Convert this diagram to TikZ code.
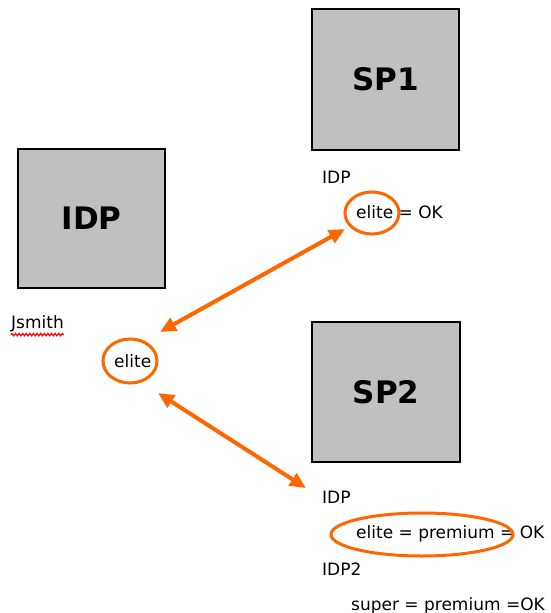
\documentclass[tikz,border=0pt]{standalone}
\usepackage{fontspec}
\setmainfont{DejaVu Sans}
\usetikzlibrary{arrows.meta,shapes.geometric,decorations.pathmorphing}
\definecolor{flow}{HTML}{FF6600}
\definecolor{boxgray}{HTML}{C0C0C0}
\tikzset{
  entity/.style={draw=black, fill=boxgray, line width=2.4pt, inner sep=0pt,
    font=\fontsize{31}{31}\selectfont\bfseries},
  txt/.style={inner sep=0pt, anchor=base west, font=\fontsize{17}{17}\selectfont},
  ring/.style={draw=flow, line width=3pt, ellipse, inner sep=0pt},
  link/.style={draw=flow, line width=4pt,
    {Triangle[length=16pt,width=14pt]}-{Triangle[length=16pt,width=14pt]}},
}
\begin{document}
\begin{tikzpicture}[x=1pt,y=-1pt]
\useasboundingbox (0,0) rectangle (551,613);

% parties
\node[entity, minimum width=147pt, minimum height=139pt] (idp) at (91.5,218.5) {IDP};
\node[entity, minimum width=147pt, minimum height=141pt] (sp1) at (385.5,79.5) {SP1};
\node[entity, minimum width=148pt, minimum height=140pt] (sp2) at (386,392) {SP2};

% identity provider side
\node[txt] (user) at (11,328) {Jsmith};
\draw[red, line width=1.2pt, decorate,
  decoration={zigzag, amplitude=1.2pt, segment length=3.6pt}]
  ([yshift=-3pt]user.south west) -- ([yshift=-3pt]user.south east);
\node[txt] (attr) at (114,367) {elite};
\node[ring, minimum width=54pt, minimum height=44pt] (attrring) at (130,361) {};

% SP1 mapping
\node[txt] (sp1idp) at (322,183) {IDP};
\node[txt] (sp1map) at (356,218) {elite = OK};
\node[ring, minimum width=54pt, minimum height=42pt] (sp1ring) at (372,213) {};

% SP2 mapping
\node[txt] (sp2idp) at (322,503) {IDP};
\node[txt] (sp2map) at (356,538) {elite = premium = OK};
\node[ring, minimum width=182pt, minimum height=43pt] (sp2ring) at (422,534.5) {};
\node[txt] (sp2idp2) at (322,575) {IDP2};
\node[txt] (sp2map2) at (351,610) {super = premium =OK};

% attribute exchange
\coordinate (l1a) at (160,332);
\coordinate (l1b) at (345,229);
\coordinate (l2a) at (158,393);
\coordinate (l2b) at (306,488);
\draw[link] (l1a) -- (l1b);
\draw[link] (l2a) -- (l2b);
\end{tikzpicture}
\end{document}
